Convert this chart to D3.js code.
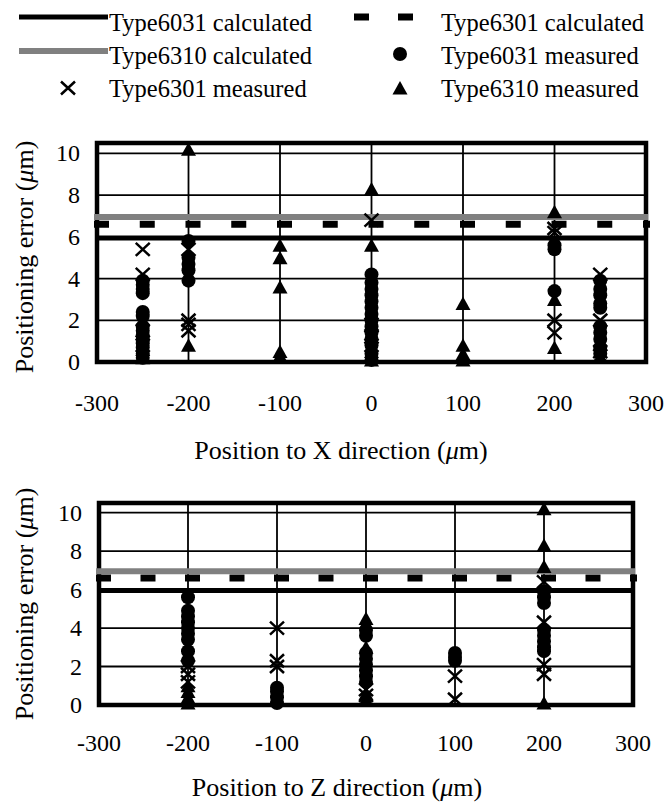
<!DOCTYPE html>
<html>
<head>
<meta charset="utf-8">
<script src="https://cdn.jsdelivr.net/npm/d3@7"></script>
<style>
  body { margin: 0; background: #fff; }
  text { font-family: "Liberation Serif", "Times New Roman", serif; fill: #000; }
</style>
</head>
<body>
<script>
// axis ticks
const xTicks = [-300, -200, -100, 0, 100, 200, 300];
const yTicks = [0, 2, 4, 6, 8, 10];

// calculated values (horizontal lines), µm
const calc6031 = 5.95;
const calc6301 = 6.6;
const calc6310 = 6.95;

// measured, X direction: [position, [errors]]
const x6031 = [
  [-250, [3.9, 3.7, 3.5, 3.3, 2.4, 2.2, 1.7, 1.5, 1.3, 1.1, 0.9, 0.7, 0.4, 0.2]],
  [-200, [5.8, 5.0, 4.7, 4.4, 3.9]],
  [0, [4.2, 3.8, 3.5, 3.2, 2.9, 2.6, 2.3, 2.0, 1.7, 1.4, 1.1, 0.8, 0.4, 0.1]],
  [200, [5.6, 5.4, 3.4]],
  [250, [3.9, 3.5, 3.2, 2.8, 2.6, 1.7, 1.4, 1.1, 0.7, 0.4]]
];
const x6301 = [
  [-250, [5.4, 4.2, 1.5, 0.8]],
  [-200, [5.4, 2.0, 1.8, 1.5]],
  [0, [6.8, 1.8, 1.2, 0.8]],
  [200, [6.4, 6.2, 2.0, 1.4]],
  [250, [4.2, 2.0, 0.5, 0.3]]
];
const x6310 = [
  [-250, [0.6, 0.2]],
  [-200, [10.2, 0.8]],
  [-100, [5.6, 5.0, 3.6, 0.5, 0.3]],
  [0, [8.3, 5.6, 0.5, 0.1]],
  [100, [2.8, 0.8, 0.4, 0.1]],
  [200, [7.2, 3.0, 0.7]]
];

// measured, Z direction
const z6031 = [
  [-200, [5.6, 4.9, 4.6, 4.3, 4.0, 3.7, 3.4, 2.8, 2.3]],
  [-100, [0.9, 0.7, 0.4, 0.1]],
  [0, [3.9, 3.6, 2.7, 2.4, 2.1, 1.8, 1.5, 1.2]],
  [100, [2.7, 2.5, 2.3]],
  [200, [5.9, 5.6, 5.3, 3.9, 3.6, 3.3, 3.0, 2.8]]
];
const z6301 = [
  [-200, [2.0, 1.6, 1.2]],
  [-100, [4.0, 2.3, 2.0]],
  [0, [0.8, 0.5]],
  [100, [1.5, 0.3]],
  [200, [6.4, 4.3, 2.1, 1.6]]
];
const z6310 = [
  [-200, [1.0, 0.7, 0.4, 0.1]],
  [0, [4.5, 3.0, 0.6, 0.3]],
  [200, [10.2, 8.3, 7.2, 0.1]]
];

const svg = d3.select("body").append("svg")
    .attr("width", 671)
    .attr("height", 804);

const flat = (cols) => cols.flatMap(([p, vs]) => vs.map((v) => [p, v]));

const triPath = "M0,-7L7.5,6.5L-7.5,6.5Z";
const crossPath = "M-7,-6.5L7,6.5M-7,6.5L7,-6.5";

function panel(o) {
  const x = d3.scaleLinear().domain([-300, 300]).range([o.left, o.right]);
  const y = d3.scaleLinear().domain([0, 10.5]).range([o.bottom, o.top]);
  const g = svg.append("g");

  // grid
  g.append("g").selectAll("line").data(yTicks.slice(1)).join("line")
      .attr("x1", o.left).attr("x2", o.right)
      .attr("y1", y).attr("y2", y)
      .attr("stroke", "#000").attr("stroke-width", 1.8);
  g.append("g").selectAll("line").data(xTicks.slice(1, -1)).join("line")
      .attr("x1", x).attr("x2", x)
      .attr("y1", o.top).attr("y2", o.bottom)
      .attr("stroke", "#000").attr("stroke-width", 1.8);

  // frame
  g.append("rect")
      .attr("x", o.left).attr("y", o.top)
      .attr("width", o.right - o.left).attr("height", o.bottom - o.top)
      .attr("fill", "none").attr("stroke", "#000").attr("stroke-width", 4.5);

  // calculated lines
  const period = x(50) - x(0);
  g.append("line")
      .attr("x1", x(-300) - 3).attr("x2", x(300) + 4)
      .attr("y1", y(calc6301)).attr("y2", y(calc6301))
      .attr("stroke", "#000").attr("stroke-width", 7)
      .attr("stroke-dasharray", `15 ${period - 15}`);
  g.append("line")
      .attr("x1", x(-300) - 3).attr("x2", x(300) + 2)
      .attr("y1", y(calc6310)).attr("y2", y(calc6310))
      .attr("stroke", "#808080").attr("stroke-width", 6);
  g.append("line")
      .attr("x1", x(-300)).attr("x2", x(300))
      .attr("y1", y(calc6031)).attr("y2", y(calc6031))
      .attr("stroke", "#000").attr("stroke-width", 5);

  // measured points
  g.append("g").selectAll("circle").data(flat(o.s6031)).join("circle")
      .attr("cx", (d) => x(d[0])).attr("cy", (d) => y(d[1]))
      .attr("r", 7).attr("fill", "#000");
  g.append("g").selectAll("path").data(flat(o.s6310)).join("path")
      .attr("transform", (d) => `translate(${x(d[0])},${y(d[1])})`)
      .attr("d", triPath).attr("fill", "#000");
  g.append("g").selectAll("path").data(flat(o.s6301)).join("path")
      .attr("transform", (d) => `translate(${x(d[0])},${y(d[1])})`)
      .attr("d", crossPath).attr("fill", "none")
      .attr("stroke", "#000").attr("stroke-width", 2.5);

  // tick labels
  g.append("g").selectAll("text").data(yTicks).join("text")
      .attr("x", o.tickRight).attr("y", (d) => y(d) + 8)
      .attr("text-anchor", "end").attr("font-size", 24)
      .text((d) => d);
  g.append("g").selectAll("text").data(xTicks).join("text")
      .attr("x", x).attr("y", o.tickBase)
      .attr("text-anchor", "middle").attr("font-size", 24)
      .text((d) => d);

  // axis titles
  const xt = g.append("text")
      .attr("x", o.titleX).attr("y", o.titleBase)
      .attr("text-anchor", "middle").attr("font-size", 26);
  xt.append("tspan").text(`Position to ${o.dir} direction (`);
  xt.append("tspan").attr("font-style", "italic").text("\u03bc");
  xt.append("tspan").text("m)");

  const yt = g.append("text")
      .attr("transform", `translate(33,${o.yTitleC}) rotate(-90)`)
      .attr("text-anchor", "middle").attr("font-size", 26);
  yt.append("tspan").text("Positioning error (");
  yt.append("tspan").attr("font-style", "italic").text("\u03bc");
  yt.append("tspan").text("m)");
}

panel({left: 97, right: 646, top: 143, bottom: 362, tickRight: 80, tickBase: 411,
  titleX: 341, titleBase: 459, yTitleC: 257, dir: "X",
  s6031: x6031, s6301: x6301, s6310: x6310});
panel({left: 99, right: 633, top: 503, bottom: 705, tickRight: 82, tickBase: 751,
  titleX: 337, titleBase: 796, yTitleC: 604, dir: "Z",
  s6031: z6031, s6301: z6301, s6310: z6310});

// legend
const lg = svg.append("g");
const legendText = [
  ["Type6031 calculated", 109, 31], ["Type6301 calculated", 441, 31],
  ["Type6310 calculated", 109, 64], ["Type6031 measured", 441, 64],
  ["Type6301 measured", 109, 97], ["Type6310 measured", 441, 97]
];
lg.selectAll("text").data(legendText).join("text")
    .attr("x", (d) => d[1]).attr("y", (d) => d[2])
    .attr("font-size", 24.5)
    .text((d) => d[0]);
lg.append("line").attr("x1", 19).attr("x2", 108).attr("y1", 17).attr("y2", 17)
    .attr("stroke", "#000").attr("stroke-width", 5);
lg.append("line").attr("x1", 19).attr("x2", 108).attr("y1", 51).attr("y2", 51)
    .attr("stroke", "#808080").attr("stroke-width", 6);
lg.append("line").attr("x1", 354).attr("x2", 414).attr("y1", 17).attr("y2", 17)
    .attr("stroke", "#000").attr("stroke-width", 7).attr("stroke-dasharray", "15 29");
lg.append("circle").attr("cx", 400).attr("cy", 54).attr("r", 7).attr("fill", "#000");
lg.append("path").attr("transform", "translate(400,88)").attr("d", triPath).attr("fill", "#000");
lg.append("path").attr("transform", "translate(68,88)").attr("d", crossPath)
    .attr("fill", "none").attr("stroke", "#000").attr("stroke-width", 2.5);
</script>
</body>
</html>
